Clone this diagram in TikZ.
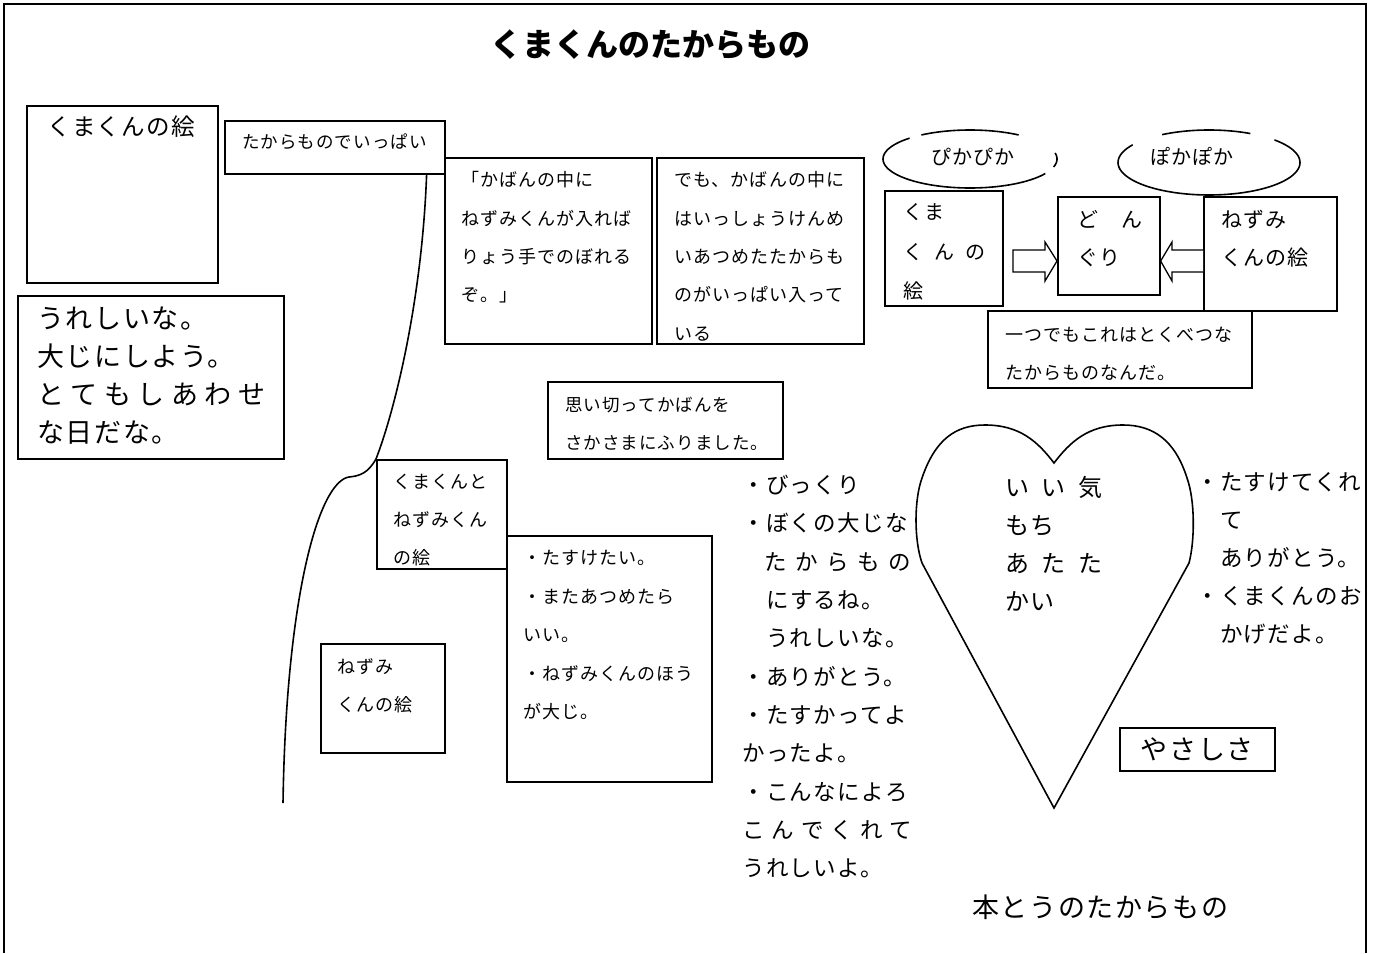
\documentclass[tikz,border=0pt]{standalone}
\usepackage{fontspec}
\newfontfamily\cjk[LetterSpace=6]{Noto Sans CJK JP}
\newfontfamily\cjkt{Noto Sans CJK JP}
\newcommand\jf[2]{\fontsize{#1}{#2}\selectfont\cjk}
\newcommand\sprd[2]{\makebox[#1pt][l]{#2}}
\tikzset{
  boxst/.style={draw, line width=1.6pt, inner sep=0, anchor=north west},
  txt/.style={anchor=base west, inner sep=0, align=left},
  curvest/.style={line width=1.6pt},
  blockarrow/.style={draw, line width=1.3pt, fill=white},
}
\begin{document}
\begin{tikzpicture}[x=1pt,y=-1pt]
\useasboundingbox (0,0) rectangle (1378,953);
\fill[white] (0,0) rectangle (1378,953);
% outer frame
\draw[line width=2.5pt] (4,953) -- (4,4) -- (1366,4) -- (1366,953);

% title
\node[inner sep=0, font=\fontsize{32}{38}\selectfont\cjkt\bfseries] (title) at (650,45) {くまくんのたからもの};

% boxes
\node[boxst, minimum width=191, minimum height=177] (b1) at (26,105) {};
\node[boxst, minimum width=266, minimum height=163] (b2) at (17,295) {};
\node[boxst, minimum width=220, minimum height=53] (b3) at (224,120) {};
\node[boxst, minimum width=207, minimum height=186] (b4) at (444,157) {};
\node[boxst, minimum width=207, minimum height=186] (b5) at (656,157) {};
\node[boxst, minimum width=235, minimum height=77] (b6) at (547,381) {};
\node[boxst, minimum width=130, minimum height=109] (b7) at (376,459) {};
\node[boxst, minimum width=205, minimum height=246] (b8) at (506,535) {};
\node[boxst, minimum width=124, minimum height=109] (b9) at (320,643) {};
\node[boxst, minimum width=118, minimum height=115] (b10) at (884,190) {};
\node[boxst, minimum width=102, minimum height=98] (b11) at (1057,196) {};
\node[boxst, minimum width=133, minimum height=114] (b12) at (1203,196) {};
\node[boxst, minimum width=264, minimum height=77] (b13) at (987,310) {};
\node[boxst, minimum width=155, minimum height=43, font=\jf{27}{30}] (b14) at (1119,727) {やさしさ};

% texts in boxes (multi-line nodes: base = baseline of last line)
\node[txt, font=\jf{23.5}{30}] (t1) at (47,135.9) {くまくんの絵};
\node[txt, font=\jf{27}{38}] (t2) at (37,442.3) {うれしいな。\\大じにしよう。\\\sprd{228}{と\hfill て\hfill も\hfill し\hfill あ\hfill わ\hfill せ}\\な日だな。};
\node[txt, font=\jf{17.5}{30}] (t3) at (242,148.7) {たからものでいっぱい};
\node[txt, font=\jf{18}{38.3}] (t4) at (461,301.7) {「かばんの中に\\ねずみくんが入れば\\りょう手でのぼれる\\ぞ。」};
\node[txt, font=\jf{18}{38.3}] (t5) at (674,340.0) {でも、かばんの中に\\はいっしょうけんめ\\いあつめたたからも\\のがいっぱい入って\\いる};
\node[txt, font=\jf{17.5}{38}] (t6) at (565,449.7) {思い切ってかばんを\\さかさまにふりました。};
\node[txt, font=\jf{18}{38}] (t7) at (393,564.8) {くまくんと\\ねずみくん\\の絵};
\node[txt, font=\jf{18}{38.5}] (t8) at (523,718.8) {・たすけたい。\\・またあつめたら\\いい。\\・ねずみくんのほう\\が大じ。};
\node[txt, font=\jf{18}{38}] (t9) at (337,711.8) {ねずみ\\くんの絵};

% top right group
\draw[curvest] plot[domain=30:226, samples=60] ({970+87*cos(\x)},{159+29*sin(\x)});
\draw[curvest] plot[domain=236:304, samples=30] ({970+87*cos(\x)},{159+29*sin(\x)});
\draw[curvest] plot[domain=-12:16, samples=15] ({970+87*cos(\x)},{159+29*sin(\x)});
\draw[curvest] plot[domain=-44:213, samples=70] ({1209+91*cos(\x)},{162.5+32.5*sin(\x)});
\draw[curvest] plot[domain=239:297, samples=30] ({1209+91*cos(\x)},{162.5+32.5*sin(\x)});
\node[txt, font=\jf{20}{30}] (e1) at (931,164.6) {ぴかぴか};
\node[txt, font=\jf{20}{30}] (e2) at (1150,164.6) {ぽかぽか};

\node[txt, font=\jf{20}{39.5}] (t10) at (903,298.6) {くま\\\sprd{82}{く\hfill ん\hfill の}\\絵};
\node[txt, font=\jf{21}{38}] (t11) at (1077,265) {\sprd{65}{ど\hfill ん}\\ぐり};
\node[txt, font=\jf{21}{38}] (t12) at (1221,265) {ねずみ\\くんの絵};
\node[txt, font=\jf{18}{38}] (t13) at (1005,379.8) {一つでもこれはとくべつな\\たからものなんだ。};

% block arrows
\draw[blockarrow] (1013,250) -- (1045,250) -- (1045,242) -- (b11.west |- 0,261) -- (1045,281) -- (1045,272) -- (1013,272) -- cycle;
\draw[blockarrow] (b12.west |- 0,250) -- (1172,250) -- (1172,242) -- (b11.east |- 0,261) -- (1172,281) -- (1172,272) -- (b12.west |- 0,272);

% curve
\coordinate (cend) at (283,803);
\draw[curvest] ([xshift=-19pt]b3.south east) .. controls (422,300) and (395,410) .. (b7.north west)
  .. controls (368,473) and (360,476) .. (349,477) .. controls (318,482) and (286,600) .. (cend);

% list column
\node[txt, font=\jf{22.5}{38.3}] (list) at (742,876.6) {・びっくり\\・ぼくの大じな\\　\sprd{146}{た\hfill か\hfill ら\hfill も\hfill の}\\　にするね。\\　うれしいな。\\・ありがとう。\\・たすかってよ\\かったよ。\\・こんなによろ\\\sprd{170}{こ\hfill ん\hfill で\hfill く\hfill れ\hfill て}\\うれしいよ。};

% heart
\draw[curvest] (1054,808) -- (922,563) .. controls (914,540) and (914,500) .. (922,478)
  .. controls (935,440) and (955,425) .. (985,425) .. controls (1020,425) and (1038,442) .. (1054,463)
  .. controls (1070,442) and (1088,425) .. (1123,425) .. controls (1153,425) and (1175,440) .. (1187,478)
  .. controls (1195,500) and (1195,540) .. (1189,563) -- cycle;
\node[txt, font=\jf{24}{38.2}] (heartt) at (1005,610.6) {\sprd{97}{い\hfill い\hfill 気}\\もち\\\sprd{97}{あ\hfill た\hfill た}\\かい};

% right column
\node[txt, font=\jf{22.5}{38}] (right) at (1196,642.6) {・たすけてくれ\\　て\\　ありがとう。\\・くまくんのお\\　かげだよ。};

% bottom
\node[txt, font=\jf{27}{30}] (hontou) at (972,917.3) {本とうのたからもの};
\end{tikzpicture}
\end{document}
